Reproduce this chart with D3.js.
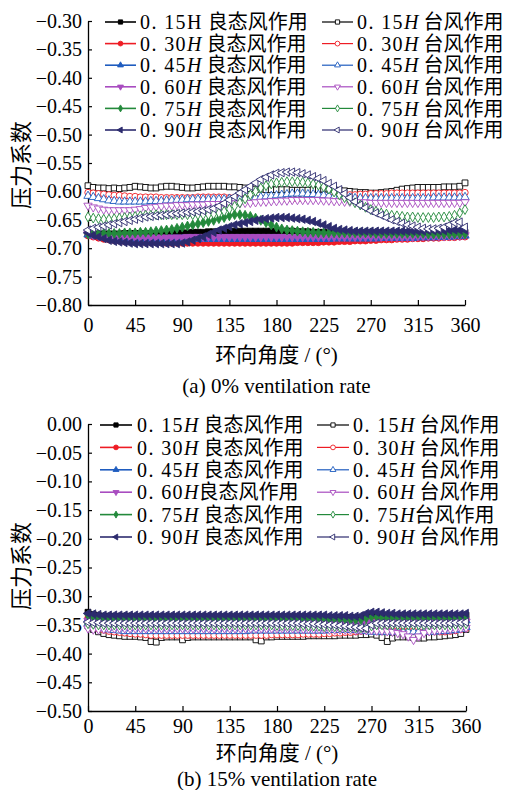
<!DOCTYPE html>
<html>
<head>
<meta charset="utf-8">
<script src="https://cdn.jsdelivr.net/npm/d3@7"></script>
<style>
body { margin: 0; background: #fff; }
text { font-family: "Liberation Serif", "Noto Sans CJK SC", serif; fill: #000; }
</style>
</head>
<body>
<div id="chart"></div>
<script>
const width = 507
const height = 790

// circumferential angle (deg)
const angles = [0,5,10,15,20,25,30,35,40,45,50,55,60,65,70,75,80,85,90,95,100,105,110,115,120,125,130,135,140,145,150,155,160,165,170,175,180,185,190,195,200,205,210,215,220,225,230,235,240,245,250,255,260,265,270,275,280,285,290,295,300,305,310,315,320,325,330,335,340,345,350,355,360]
const xTicks = [0, 45, 90, 135, 180, 225, 270, 315, 360]
const yTicksA = [-0.80, -0.75, -0.70, -0.65, -0.60, -0.55, -0.50, -0.45, -0.40, -0.35, -0.30]
const yTicksB = [-0.50, -0.45, -0.40, -0.35, -0.30, -0.25, -0.20, -0.15, -0.10, -0.05, 0.00]

// legend labels, *H* = italic
const legendA_good = ["0. 15H 良态风作用", "0. 30*H* 良态风作用", "0. 45*H* 良态风作用", "0. 60*H* 良态风作用", "0. 75*H* 良态风作用", "0. 90*H* 良态风作用"]
const legendA_ty = ["0. 15*H* 台风作用", "0. 30*H* 台风作用", "0. 45*H* 台风作用", "0. 60*H* 台风作用", "0. 75*H* 台风作用", "0. 90*H* 台风作用"]
const legendB_good = ["0. 15*H* 良态风作用", "0. 30*H* 良态风作用", "0. 45*H* 良态风作用", "0. 60*H*良态风作用", "0. 75*H* 良态风作用", "0. 90*H* 良态风作用"]
const legendB_ty = ["0. 15*H* 台风作用", "0. 30*H* 台风作用", "0. 45*H* 台风作用", "0. 60*H* 台风作用", "0. 75*H*台风作用", "0. 90*H* 台风作用"]

// (a) 0% ventilation -- 良态风
const a_good15 = [-0.676,-0.675,-0.675,-0.675,-0.675,-0.675,-0.675,-0.674,-0.674,-0.674,-0.674,-0.674,-0.674,
  -0.674,-0.674,-0.674,-0.673,-0.673,-0.673,-0.673,-0.672,-0.672,-0.672,-0.671,-0.671,
  -0.671,-0.671,-0.671,-0.670,-0.670,-0.670,-0.670,-0.670,-0.670,-0.670,-0.670,-0.670,
  -0.670,-0.670,-0.670,-0.671,-0.671,-0.671,-0.672,-0.672,-0.672,-0.673,-0.673,-0.673,
  -0.673,-0.673,-0.673,-0.673,-0.673,-0.673,-0.673,-0.673,-0.673,-0.673,-0.673,-0.673,
  -0.673,-0.673,-0.673,-0.673,-0.673,-0.673,-0.673,-0.673,-0.673,-0.672,-0.672,-0.672]
const a_good30 = [-0.678,-0.680,-0.682,-0.684,-0.685,-0.686,-0.687,-0.688,-0.688,-0.689,-0.689,-0.690,-0.690,
  -0.690,-0.690,-0.691,-0.691,-0.691,-0.691,-0.691,-0.691,-0.691,-0.691,-0.691,-0.691,
  -0.691,-0.691,-0.691,-0.691,-0.691,-0.691,-0.691,-0.691,-0.691,-0.691,-0.691,-0.691,
  -0.691,-0.691,-0.691,-0.690,-0.690,-0.690,-0.690,-0.690,-0.689,-0.689,-0.689,-0.688,
  -0.688,-0.688,-0.687,-0.687,-0.687,-0.686,-0.686,-0.685,-0.685,-0.685,-0.684,-0.684,
  -0.684,-0.683,-0.683,-0.683,-0.682,-0.682,-0.682,-0.681,-0.681,-0.681,-0.680,-0.680]
const a_good45 = [-0.676,-0.678,-0.679,-0.680,-0.681,-0.682,-0.683,-0.683,-0.684,-0.684,-0.684,-0.684,-0.684,
  -0.684,-0.684,-0.684,-0.684,-0.684,-0.684,-0.684,-0.684,-0.684,-0.684,-0.684,-0.684,
  -0.684,-0.684,-0.684,-0.684,-0.684,-0.684,-0.684,-0.684,-0.684,-0.684,-0.684,-0.684,
  -0.684,-0.684,-0.684,-0.684,-0.684,-0.684,-0.684,-0.684,-0.684,-0.684,-0.683,-0.683,
  -0.683,-0.683,-0.683,-0.683,-0.683,-0.683,-0.683,-0.682,-0.682,-0.682,-0.682,-0.682,
  -0.682,-0.682,-0.681,-0.681,-0.681,-0.681,-0.680,-0.680,-0.680,-0.679,-0.679,-0.678]
const a_good60 = [-0.675,-0.677,-0.678,-0.679,-0.680,-0.680,-0.681,-0.681,-0.681,-0.681,-0.681,-0.681,-0.681,
  -0.681,-0.681,-0.681,-0.681,-0.681,-0.681,-0.680,-0.680,-0.680,-0.680,-0.680,-0.680,
  -0.680,-0.680,-0.680,-0.680,-0.680,-0.680,-0.680,-0.680,-0.680,-0.680,-0.680,-0.680,
  -0.680,-0.680,-0.680,-0.680,-0.680,-0.680,-0.680,-0.680,-0.680,-0.680,-0.680,-0.680,
  -0.680,-0.680,-0.680,-0.680,-0.680,-0.680,-0.680,-0.680,-0.680,-0.680,-0.680,-0.680,
  -0.680,-0.680,-0.679,-0.679,-0.679,-0.679,-0.679,-0.679,-0.678,-0.678,-0.678,-0.677]
const a_good75 = [-0.675,-0.674,-0.674,-0.674,-0.674,-0.674,-0.674,-0.673,-0.673,-0.673,-0.672,-0.672,-0.671,
  -0.670,-0.669,-0.668,-0.667,-0.665,-0.663,-0.661,-0.659,-0.657,-0.655,-0.653,-0.651,
  -0.648,-0.646,-0.643,-0.641,-0.641,-0.642,-0.644,-0.647,-0.651,-0.655,-0.659,-0.663,
  -0.666,-0.668,-0.669,-0.670,-0.671,-0.672,-0.672,-0.673,-0.673,-0.673,-0.673,-0.673,
  -0.673,-0.673,-0.673,-0.673,-0.673,-0.673,-0.674,-0.674,-0.674,-0.674,-0.674,-0.674,
  -0.674,-0.674,-0.674,-0.674,-0.675,-0.675,-0.675,-0.675,-0.675,-0.675,-0.675,-0.675]
const a_good90 = [-0.673,-0.677,-0.680,-0.683,-0.686,-0.688,-0.689,-0.690,-0.691,-0.692,-0.692,-0.692,-0.692,
  -0.692,-0.692,-0.692,-0.692,-0.692,-0.691,-0.689,-0.686,-0.683,-0.680,-0.676,-0.672,
  -0.668,-0.665,-0.662,-0.659,-0.657,-0.655,-0.653,-0.651,-0.649,-0.648,-0.647,-0.646,
  -0.646,-0.646,-0.647,-0.648,-0.649,-0.651,-0.653,-0.656,-0.659,-0.662,-0.665,-0.667,
  -0.668,-0.669,-0.670,-0.670,-0.670,-0.670,-0.670,-0.670,-0.670,-0.670,-0.670,-0.670,
  -0.670,-0.670,-0.670,-0.670,-0.669,-0.669,-0.669,-0.669,-0.668,-0.668,-0.668,-0.668]

// (a) 0% ventilation -- 台风
const a_ty15 = [-0.590,-0.593,-0.594,-0.594,-0.595,-0.594,-0.595,-0.594,-0.593,-0.591,-0.592,-0.593,-0.594,
  -0.594,-0.592,-0.591,-0.591,-0.592,-0.593,-0.594,-0.594,-0.593,-0.592,-0.591,-0.591,
  -0.591,-0.591,-0.592,-0.592,-0.593,-0.594,-0.595,-0.596,-0.596,-0.597,-0.597,-0.597,
  -0.597,-0.597,-0.598,-0.598,-0.598,-0.598,-0.597,-0.597,-0.596,-0.596,-0.597,-0.598,
  -0.599,-0.600,-0.601,-0.602,-0.602,-0.603,-0.603,-0.602,-0.601,-0.600,-0.598,-0.596,
  -0.595,-0.594,-0.593,-0.593,-0.593,-0.593,-0.593,-0.592,-0.592,-0.592,-0.591,-0.585]
const a_ty30 = [-0.602,-0.603,-0.604,-0.605,-0.606,-0.607,-0.607,-0.608,-0.609,-0.609,-0.610,-0.610,-0.610,
  -0.610,-0.611,-0.611,-0.611,-0.611,-0.611,-0.611,-0.611,-0.610,-0.610,-0.610,-0.610,
  -0.610,-0.610,-0.611,-0.611,-0.611,-0.612,-0.612,-0.612,-0.612,-0.612,-0.612,-0.613,
  -0.613,-0.613,-0.613,-0.613,-0.613,-0.612,-0.612,-0.611,-0.611,-0.610,-0.609,-0.608,
  -0.607,-0.606,-0.606,-0.605,-0.605,-0.604,-0.604,-0.604,-0.604,-0.603,-0.603,-0.603,
  -0.603,-0.603,-0.603,-0.603,-0.603,-0.603,-0.603,-0.603,-0.603,-0.603,-0.603,-0.602]
const a_ty45 = [-0.608,-0.610,-0.612,-0.614,-0.616,-0.617,-0.618,-0.618,-0.618,-0.618,-0.618,-0.618,-0.617,
  -0.617,-0.617,-0.616,-0.616,-0.615,-0.615,-0.614,-0.614,-0.614,-0.614,-0.614,-0.614,
  -0.614,-0.614,-0.613,-0.613,-0.613,-0.612,-0.612,-0.611,-0.610,-0.609,-0.608,-0.607,
  -0.606,-0.605,-0.604,-0.604,-0.604,-0.605,-0.605,-0.606,-0.607,-0.608,-0.609,-0.610,
  -0.611,-0.611,-0.612,-0.612,-0.612,-0.612,-0.612,-0.612,-0.612,-0.612,-0.612,-0.612,
  -0.612,-0.612,-0.612,-0.612,-0.612,-0.611,-0.611,-0.611,-0.611,-0.611,-0.611,-0.610]
const a_ty60 = [-0.625,-0.628,-0.630,-0.632,-0.633,-0.633,-0.633,-0.633,-0.633,-0.632,-0.631,-0.629,-0.628,
  -0.627,-0.626,-0.625,-0.625,-0.624,-0.624,-0.624,-0.623,-0.623,-0.623,-0.622,-0.622,
  -0.622,-0.622,-0.621,-0.621,-0.621,-0.620,-0.620,-0.619,-0.618,-0.618,-0.617,-0.617,
  -0.616,-0.616,-0.615,-0.615,-0.615,-0.615,-0.615,-0.615,-0.616,-0.616,-0.617,-0.617,
  -0.618,-0.618,-0.619,-0.619,-0.619,-0.620,-0.620,-0.620,-0.620,-0.620,-0.620,-0.620,
  -0.620,-0.620,-0.620,-0.620,-0.620,-0.620,-0.620,-0.620,-0.620,-0.620,-0.620,-0.619]
const a_ty75 = [-0.645,-0.647,-0.648,-0.649,-0.649,-0.648,-0.647,-0.646,-0.645,-0.644,-0.643,-0.642,-0.642,
  -0.641,-0.641,-0.641,-0.641,-0.641,-0.641,-0.641,-0.641,-0.641,-0.641,-0.641,-0.640,
  -0.638,-0.635,-0.631,-0.626,-0.620,-0.613,-0.606,-0.600,-0.594,-0.590,-0.587,-0.585,
  -0.584,-0.583,-0.583,-0.583,-0.584,-0.585,-0.587,-0.589,-0.592,-0.596,-0.601,-0.606,
  -0.611,-0.616,-0.620,-0.624,-0.628,-0.632,-0.635,-0.638,-0.640,-0.642,-0.643,-0.644,
  -0.645,-0.645,-0.646,-0.646,-0.646,-0.646,-0.645,-0.645,-0.644,-0.642,-0.638,-0.632]
const a_ty90 = [-0.668,-0.665,-0.663,-0.661,-0.659,-0.657,-0.655,-0.653,-0.651,-0.649,-0.647,-0.645,-0.644,
  -0.643,-0.642,-0.641,-0.640,-0.639,-0.638,-0.637,-0.636,-0.635,-0.634,-0.632,-0.630,
  -0.626,-0.621,-0.615,-0.609,-0.603,-0.597,-0.591,-0.585,-0.579,-0.575,-0.571,-0.568,
  -0.567,-0.566,-0.566,-0.567,-0.569,-0.571,-0.574,-0.577,-0.581,-0.586,-0.591,-0.597,
  -0.604,-0.611,-0.618,-0.624,-0.629,-0.634,-0.638,-0.642,-0.646,-0.650,-0.653,-0.656,
  -0.659,-0.661,-0.663,-0.665,-0.666,-0.666,-0.665,-0.663,-0.659,-0.655,-0.654,-0.663]

// (b) 15% ventilation -- 良态风
const b_good15 = [-0.328,-0.332,-0.334,-0.335,-0.335,-0.335,-0.335,-0.335,-0.335,-0.336,-0.336,-0.336,-0.336,
  -0.336,-0.336,-0.336,-0.336,-0.336,-0.336,-0.336,-0.336,-0.336,-0.336,-0.336,-0.336,
  -0.336,-0.336,-0.336,-0.336,-0.336,-0.336,-0.336,-0.336,-0.336,-0.336,-0.336,-0.336,
  -0.336,-0.336,-0.336,-0.336,-0.336,-0.336,-0.336,-0.336,-0.336,-0.337,-0.337,-0.337,
  -0.337,-0.337,-0.338,-0.338,-0.338,-0.334,-0.333,-0.333,-0.334,-0.334,-0.334,-0.334,
  -0.334,-0.334,-0.334,-0.334,-0.334,-0.334,-0.334,-0.334,-0.334,-0.334,-0.334,-0.333]
const b_good30 = [-0.338,-0.340,-0.341,-0.342,-0.342,-0.342,-0.342,-0.342,-0.342,-0.342,-0.342,-0.342,-0.342,
  -0.342,-0.342,-0.342,-0.342,-0.342,-0.342,-0.342,-0.342,-0.342,-0.342,-0.342,-0.342,
  -0.342,-0.342,-0.342,-0.342,-0.342,-0.342,-0.342,-0.342,-0.342,-0.342,-0.342,-0.342,
  -0.342,-0.342,-0.342,-0.342,-0.342,-0.342,-0.342,-0.342,-0.342,-0.343,-0.343,-0.343,
  -0.343,-0.344,-0.344,-0.344,-0.342,-0.340,-0.340,-0.340,-0.341,-0.341,-0.341,-0.341,
  -0.341,-0.341,-0.341,-0.341,-0.341,-0.341,-0.341,-0.341,-0.341,-0.341,-0.341,-0.340]
const b_good45 = [-0.340,-0.342,-0.343,-0.344,-0.345,-0.345,-0.345,-0.345,-0.345,-0.345,-0.345,-0.345,-0.345,
  -0.345,-0.345,-0.345,-0.345,-0.345,-0.345,-0.345,-0.345,-0.345,-0.345,-0.345,-0.345,
  -0.345,-0.345,-0.345,-0.345,-0.345,-0.345,-0.345,-0.345,-0.345,-0.345,-0.345,-0.345,
  -0.345,-0.345,-0.345,-0.345,-0.345,-0.345,-0.346,-0.346,-0.346,-0.346,-0.346,-0.346,
  -0.346,-0.346,-0.347,-0.347,-0.346,-0.344,-0.343,-0.343,-0.343,-0.344,-0.344,-0.344,
  -0.344,-0.344,-0.344,-0.344,-0.344,-0.344,-0.344,-0.344,-0.344,-0.344,-0.343,-0.342]
const b_good60 = [-0.343,-0.345,-0.346,-0.347,-0.347,-0.347,-0.347,-0.347,-0.347,-0.347,-0.347,-0.347,-0.347,
  -0.347,-0.347,-0.347,-0.347,-0.347,-0.347,-0.347,-0.347,-0.347,-0.347,-0.347,-0.347,
  -0.347,-0.347,-0.347,-0.347,-0.347,-0.347,-0.347,-0.347,-0.347,-0.347,-0.347,-0.347,
  -0.347,-0.347,-0.347,-0.347,-0.347,-0.347,-0.347,-0.347,-0.347,-0.347,-0.347,-0.347,
  -0.347,-0.348,-0.348,-0.348,-0.347,-0.345,-0.345,-0.345,-0.345,-0.345,-0.345,-0.345,
  -0.345,-0.345,-0.345,-0.345,-0.345,-0.345,-0.345,-0.345,-0.345,-0.345,-0.344,-0.344]
const b_good75 = [-0.333,-0.336,-0.338,-0.339,-0.339,-0.339,-0.339,-0.339,-0.339,-0.339,-0.339,-0.339,-0.339,
  -0.339,-0.339,-0.339,-0.339,-0.339,-0.339,-0.339,-0.339,-0.339,-0.339,-0.339,-0.339,
  -0.339,-0.339,-0.339,-0.339,-0.339,-0.339,-0.339,-0.339,-0.339,-0.339,-0.339,-0.339,
  -0.339,-0.339,-0.339,-0.339,-0.339,-0.339,-0.339,-0.339,-0.339,-0.340,-0.340,-0.340,
  -0.340,-0.341,-0.341,-0.341,-0.338,-0.336,-0.336,-0.337,-0.337,-0.337,-0.337,-0.337,
  -0.337,-0.337,-0.337,-0.337,-0.337,-0.337,-0.337,-0.337,-0.337,-0.337,-0.337,-0.336]
const b_good90 = [-0.330,-0.331,-0.332,-0.333,-0.333,-0.333,-0.333,-0.333,-0.333,-0.333,-0.333,-0.333,-0.333,
  -0.333,-0.333,-0.333,-0.333,-0.333,-0.333,-0.333,-0.333,-0.333,-0.333,-0.333,-0.333,
  -0.333,-0.333,-0.333,-0.333,-0.333,-0.333,-0.333,-0.333,-0.333,-0.333,-0.333,-0.333,
  -0.333,-0.333,-0.333,-0.333,-0.333,-0.333,-0.333,-0.333,-0.333,-0.334,-0.334,-0.334,
  -0.334,-0.335,-0.335,-0.334,-0.330,-0.328,-0.328,-0.329,-0.330,-0.330,-0.331,-0.331,
  -0.331,-0.331,-0.331,-0.331,-0.331,-0.331,-0.331,-0.331,-0.331,-0.331,-0.331,-0.330]

// (b) 15% ventilation -- 台风
const b_ty15 = [-0.352,-0.358,-0.362,-0.365,-0.367,-0.368,-0.369,-0.370,-0.370,-0.370,-0.371,-0.372,-0.379,
  -0.380,-0.372,-0.371,-0.371,-0.371,-0.376,-0.372,-0.371,-0.371,-0.371,-0.371,-0.371,
  -0.371,-0.371,-0.371,-0.371,-0.371,-0.371,-0.371,-0.376,-0.378,-0.371,-0.371,-0.370,
  -0.370,-0.370,-0.370,-0.370,-0.370,-0.369,-0.369,-0.369,-0.369,-0.369,-0.369,-0.368,
  -0.368,-0.368,-0.368,-0.367,-0.367,-0.366,-0.368,-0.372,-0.379,-0.373,-0.371,-0.371,
  -0.371,-0.372,-0.373,-0.373,-0.371,-0.371,-0.370,-0.369,-0.368,-0.367,-0.365,-0.358]
const b_ty30 = [-0.352,-0.355,-0.357,-0.359,-0.361,-0.362,-0.363,-0.364,-0.365,-0.366,-0.366,-0.367,-0.368,
  -0.368,-0.368,-0.368,-0.368,-0.368,-0.368,-0.368,-0.368,-0.368,-0.368,-0.368,-0.368,
  -0.368,-0.368,-0.368,-0.368,-0.368,-0.368,-0.368,-0.368,-0.368,-0.368,-0.367,-0.367,
  -0.367,-0.367,-0.367,-0.367,-0.366,-0.366,-0.366,-0.366,-0.365,-0.365,-0.364,-0.364,
  -0.363,-0.363,-0.362,-0.361,-0.360,-0.360,-0.360,-0.360,-0.360,-0.360,-0.360,-0.361,
  -0.361,-0.361,-0.362,-0.362,-0.362,-0.362,-0.362,-0.362,-0.361,-0.360,-0.358,-0.356]
const b_ty45 = [-0.348,-0.351,-0.354,-0.356,-0.358,-0.359,-0.360,-0.361,-0.361,-0.361,-0.361,-0.361,-0.361,
  -0.361,-0.361,-0.361,-0.361,-0.361,-0.361,-0.361,-0.361,-0.361,-0.361,-0.361,-0.361,
  -0.361,-0.361,-0.361,-0.361,-0.361,-0.361,-0.360,-0.360,-0.360,-0.360,-0.360,-0.360,
  -0.360,-0.360,-0.360,-0.360,-0.360,-0.360,-0.360,-0.360,-0.360,-0.359,-0.359,-0.359,
  -0.359,-0.359,-0.359,-0.360,-0.361,-0.362,-0.362,-0.362,-0.362,-0.362,-0.362,-0.362,
  -0.362,-0.362,-0.362,-0.362,-0.362,-0.362,-0.361,-0.361,-0.360,-0.359,-0.357,-0.354]
const b_ty60 = [-0.356,-0.358,-0.358,-0.357,-0.356,-0.356,-0.356,-0.356,-0.356,-0.356,-0.356,-0.356,-0.356,
  -0.356,-0.356,-0.356,-0.356,-0.356,-0.356,-0.356,-0.356,-0.356,-0.356,-0.356,-0.356,
  -0.356,-0.356,-0.356,-0.356,-0.356,-0.356,-0.356,-0.356,-0.356,-0.356,-0.356,-0.356,
  -0.356,-0.356,-0.356,-0.356,-0.357,-0.357,-0.357,-0.357,-0.357,-0.358,-0.358,-0.358,
  -0.358,-0.358,-0.359,-0.359,-0.359,-0.359,-0.360,-0.360,-0.361,-0.362,-0.364,-0.366,
  -0.370,-0.376,-0.370,-0.364,-0.361,-0.360,-0.359,-0.358,-0.357,-0.357,-0.356,-0.355]
const b_ty75 = [-0.348,-0.349,-0.350,-0.350,-0.350,-0.350,-0.350,-0.350,-0.350,-0.350,-0.350,-0.350,-0.350,
  -0.350,-0.350,-0.350,-0.350,-0.350,-0.350,-0.350,-0.350,-0.350,-0.350,-0.350,-0.350,
  -0.350,-0.350,-0.350,-0.350,-0.350,-0.350,-0.350,-0.350,-0.350,-0.350,-0.350,-0.351,
  -0.351,-0.351,-0.351,-0.351,-0.351,-0.352,-0.352,-0.352,-0.353,-0.353,-0.353,-0.354,
  -0.354,-0.354,-0.355,-0.355,-0.355,-0.352,-0.350,-0.350,-0.350,-0.350,-0.350,-0.350,
  -0.350,-0.350,-0.350,-0.350,-0.350,-0.350,-0.350,-0.350,-0.350,-0.349,-0.349,-0.348]
const b_ty90 = [-0.345,-0.346,-0.346,-0.347,-0.347,-0.347,-0.347,-0.347,-0.347,-0.347,-0.347,-0.347,-0.347,
  -0.347,-0.347,-0.347,-0.347,-0.347,-0.347,-0.347,-0.347,-0.347,-0.347,-0.347,-0.347,
  -0.347,-0.347,-0.347,-0.347,-0.347,-0.347,-0.347,-0.347,-0.347,-0.347,-0.347,-0.347,
  -0.347,-0.347,-0.347,-0.347,-0.348,-0.348,-0.348,-0.349,-0.349,-0.350,-0.350,-0.351,
  -0.352,-0.353,-0.354,-0.355,-0.356,-0.350,-0.347,-0.347,-0.347,-0.347,-0.347,-0.347,
  -0.347,-0.347,-0.347,-0.347,-0.347,-0.347,-0.347,-0.347,-0.347,-0.346,-0.346,-0.345]

const colors = ["#000000", "#ee1c24", "#1f5cbf", "#a84cc0", "#23893b", "#2c2b6e"]
const shapes = ["square", "circle", "up", "down", "diamond", "left"]
const symSize = {square: 34, circle: 32, up: 30, down: 30, diamond: 28, left: 30}
const legSize = {square: 18, circle: 18, up: 15, down: 15, diamond: 14, left: 15}
const rot = {up: 0, down: 180, left: -90, square: 0, circle: 0, diamond: 0}
const serif = '"Liberation Serif", "Noto Sans CJK SC", serif'

const panels = [
    {
        good: [a_good15, a_good30, a_good45, a_good60, a_good75, a_good90],
        ty: [a_ty15, a_ty30, a_ty45, a_ty60, a_ty75, a_ty90],
        legGood: legendA_good, legTy: legendA_ty,
        yDomain: [-0.80, -0.30], yTicks: yTicksA,
        left: 88, right: 465, top: 21, bottom: 305,
        xPad: 13, titleY: 355, capY: 386, yLabelY: 165,
        leg: {top: 22, step: 21.6, c1: 105, c2: 322, len: 31, tx1: 140, tx2: 357}
    },
    {
        good: [b_good15, b_good30, b_good45, b_good60, b_good75, b_good90],
        ty: [b_ty15, b_ty30, b_ty45, b_ty60, b_ty75, b_ty90],
        legGood: legendB_good, legTy: legendB_ty,
        yDomain: [-0.50, 0.00], yTicks: yTicksB,
        left: 88, right: 466, top: 424, bottom: 711,
        xPad: 8, titleY: 753, capY: 779, yLabelY: 566,
        leg: {top: 425, step: 22.4, c1: 100, c2: 317, len: 32, tx1: 137, tx2: 353}
    }
]

const svg = d3.select("div#chart").append("svg").attr("width", width).attr("height", height)

function marker(shape, size) {
    const type = shape == "square" ? d3.symbolSquare
        : shape == "circle" ? d3.symbolCircle
        : shape == "diamond" ? d3.symbolDiamond
        : d3.symbolTriangle
    return d3.symbol().type(type).size(size)()
}

function addLabel(sel, label) {
    // number part gets a little extra spacing, like the source's wide digits
    const parts = label.split("*")
    if (parts.length == 1) {
        const m = label.match(/^(0\. \d\dH)(.*)$/)
        sel.append("tspan").style("letter-spacing", "1.4px").text(m[1])
        sel.append("tspan").text(m[2])
        return
    }
    parts.forEach((p, i) => {
        const t = sel.append("tspan").style("font-style", i % 2 == 1 ? "italic" : "normal").text(p)
        if (i == 0) t.style("letter-spacing", "1.4px")
    })
}

panels.forEach(p => {
    const x = d3.scaleLinear().domain([0, 360]).range([p.left, p.right])
    const y = d3.scaleLinear().domain(p.yDomain).range([p.bottom, p.top])
    const g = svg.append("g")

    const xAxisGroup = g.append("g").attr("transform", `translate(0, ${p.bottom})`)
        .call(d3.axisBottom(x).tickValues(xTicks).tickSizeInner(-5).tickSizeOuter(0).tickPadding(p.xPad).tickFormat(d3.format("d")))
    const yAxisGroup = g.append("g").attr("transform", `translate(${p.left}, 0)`)
        .call(d3.axisLeft(y).tickValues(p.yTicks).tickSizeInner(-4).tickSizeOuter(0).tickPadding(6).tickFormat(d3.format(".2f")))
    ;[xAxisGroup, yAxisGroup].forEach(a => {
        a.attr("font-family", null)
        a.selectAll("text").style("font-size", "20px").style("font-family", serif).attr("fill", "#000")
        a.selectAll("line").attr("stroke", "#000").attr("stroke-width", 1.2)
        a.select(".domain").attr("stroke", "#000").attr("stroke-width", 1.3)
    })

    // series: 良态 first, then 台风
    const all = p.good.map((v, k) => ({vals: v, k: k, open: false}))
        .concat(p.ty.map((v, k) => ({vals: v, k: k, open: true})))
    const line = d3.line().x(d => x(d[0])).y(d => y(d[1]))
    all.forEach(s => {
        const pts = angles.map((a, j) => [a, s.vals[j]])
        const c = colors[s.k], sh = shapes[s.k]
        g.append("path").datum(pts).attr("d", line)
            .attr("fill", "none").attr("stroke", c).attr("stroke-width", 0.9)
        g.append("g").selectAll("path").data(pts).enter().append("path")
            .attr("d", marker(sh, symSize[sh]))
            .attr("transform", d => `translate(${x(d[0])}, ${y(d[1])}) rotate(${rot[sh]})`)
            .attr("fill", s.open ? "#fff" : c)
            .attr("stroke", c).attr("stroke-width", 0.9)
    })

    // legend
    const L = p.leg
    ;[[p.legGood, L.c1, L.tx1, false], [p.legTy, L.c2, L.tx2, true]].forEach(([labels, cx, tx, open]) => {
        labels.forEach((lab, k) => {
            const ry = L.top + k * L.step
            const sh = shapes[k]
            g.append("line").attr("x1", cx).attr("x2", cx + L.len).attr("y1", ry).attr("y2", ry)
                .attr("stroke", colors[k]).attr("stroke-width", open ? 1.2 : 1.6)
            g.append("path").attr("d", marker(sh, legSize[sh]))
                .attr("transform", `translate(${cx + L.len / 2}, ${ry}) rotate(${rot[sh]})`)
                .attr("fill", open ? "#fff" : colors[k]).attr("stroke", colors[k]).attr("stroke-width", 0.9)
            const t = g.append("text").attr("x", tx).attr("y", ry).attr("dy", "0.36em")
                .style("font-size", "20px").style("font-family", serif).attr("xml:space", "preserve")
            addLabel(t, lab)
        })
    })

    // titles
    const mid = (p.left + p.right) / 2
    g.append("text").attr("x", mid).attr("y", p.titleY).attr("dy", "0.35em")
        .attr("text-anchor", "middle").style("font-size", "21px").text("环向角度 / (°)")
    g.append("text").attr("x", mid).attr("y", p.capY).attr("dy", "0.35em")
        .attr("text-anchor", "middle").style("font-size", "21px")
        .text(p === panels[0] ? "(a) 0% ventilation rate" : "(b) 15% ventilation rate")
    g.append("text").attr("transform", `translate(21, ${p.yLabelY}) rotate(-90)`)
        .attr("dy", "0.35em").attr("text-anchor", "middle").style("font-size", "22px").text("压力系数")
})
</script>
</body>
</html>
